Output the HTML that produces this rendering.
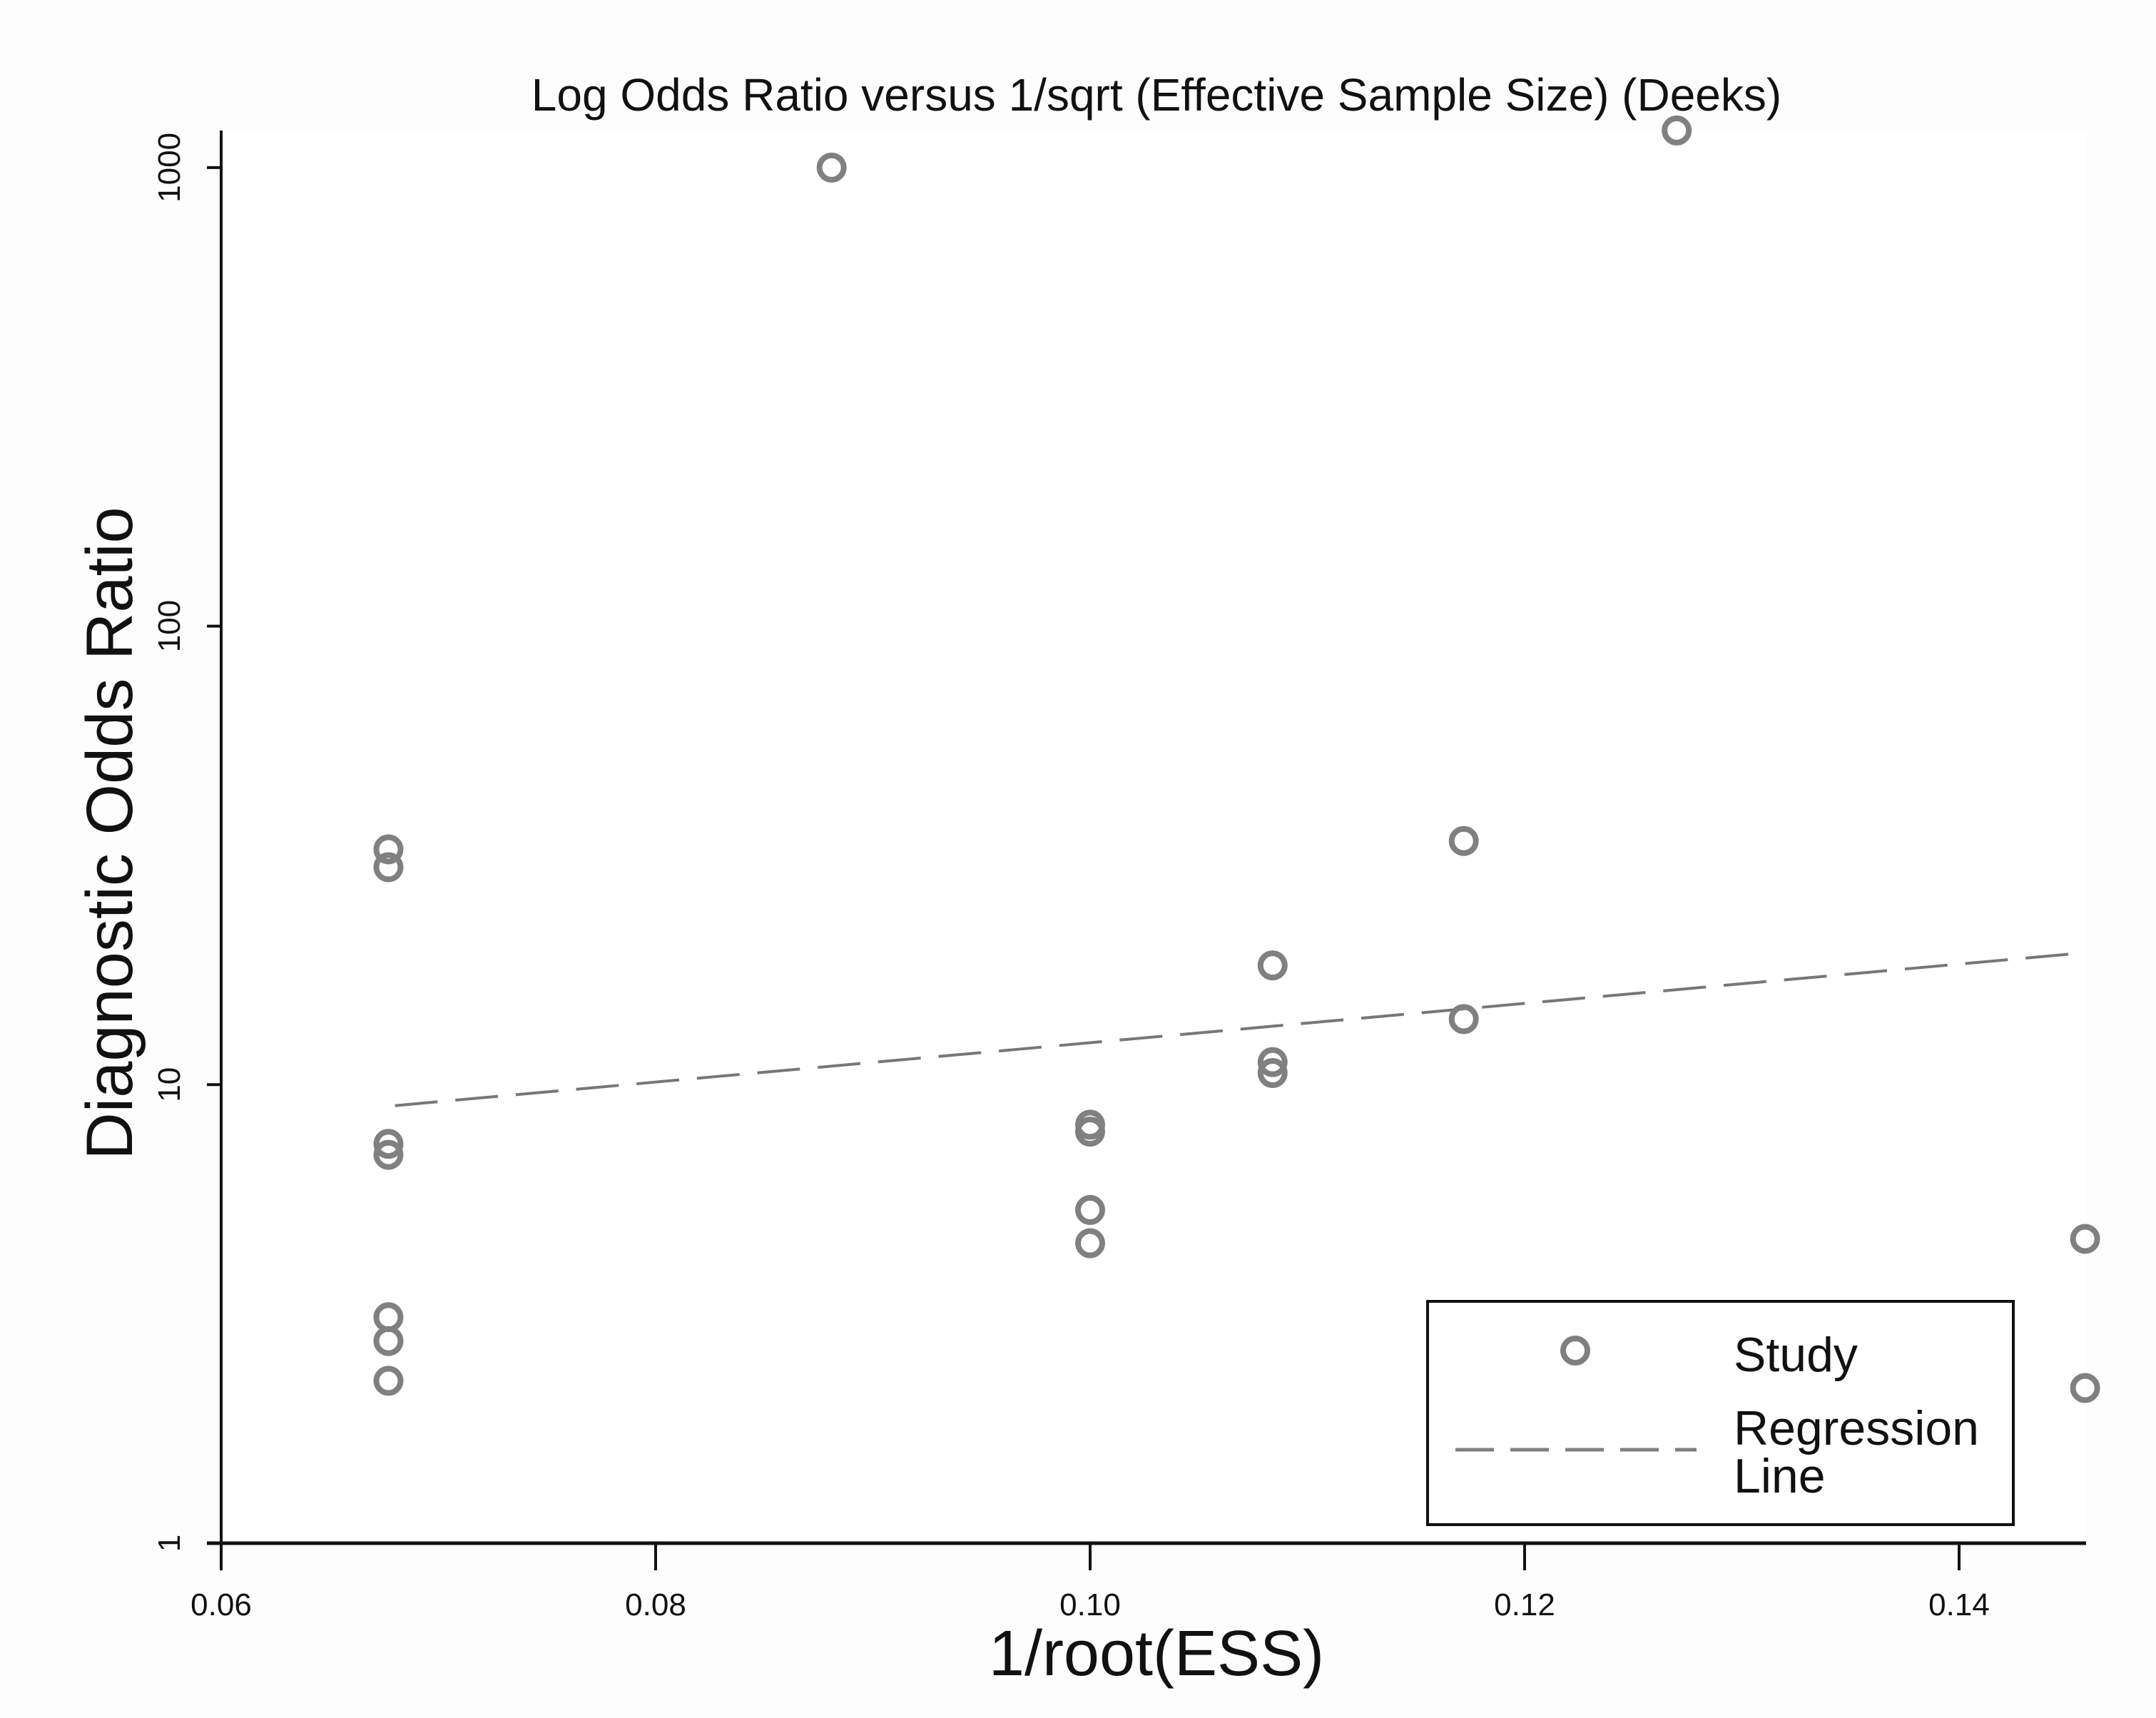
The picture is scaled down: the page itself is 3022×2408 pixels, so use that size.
<!DOCTYPE html>
<html><head><meta charset="utf-8"><style>
html,body{margin:0;padding:0;background:#fdfdfd;}
svg{display:block;font-family:"Liberation Sans",Arial,sans-serif;}
</style></head><body>
<svg id="chart" width="3022" height="2408" viewBox="0 0 3022 2408" xmlns="http://www.w3.org/2000/svg">
<rect x="310" y="183" width="2614" height="1980" fill="#ffffff"/>
<text x="1621" y="155" font-size="64" text-anchor="middle" fill="#111">Log Odds Ratio versus 1/sqrt (Effective Sample Size) (Deeks)</text>
<g id="axes"></g>
<g id="marks"></g>
<text x="1621" y="2348" font-size="90" text-anchor="middle" fill="#111">1/root(ESS)</text>
<text transform="translate(185,1168) rotate(-90)" font-size="92" text-anchor="middle" fill="#111">Diagnostic Odds Ratio</text>
<g>
<rect x="2001" y="1824" width="821" height="313" fill="#fff" stroke="#111" stroke-width="4"/>
<circle cx="2208" cy="1893" r="17" fill="none" stroke="#808080" stroke-width="8"/>
<text x="2430" y="1922" font-size="68" fill="#111">Study</text>
<line x1="2040" y1="2032" x2="2378" y2="2032" stroke="#808080" stroke-width="5" stroke-dasharray="54,23"/>
<text x="2430" y="2025" font-size="68" fill="#111">Regression</text>
<text x="2430" y="2092" font-size="68" fill="#111">Line</text>
</g>
</svg>
<script>
const studyX = [0.0677,0.0677,0.0677,0.0677,0.0677,0.0677,0.0677,0.0881,0.1270,0.1000,0.1000,0.1000,0.1000,0.1084,0.1084,0.1084,0.1172,0.1172,0.1458,0.1458];
const studyDOR = [32.6,29.8,7.43,7.03,3.11,2.76,2.26,1000,1205,8.18,7.9,5.33,4.51,18.2,11.2,10.6,34.0,13.9,4.61,2.18];
const regX = [0.0680,0.1458];
const regDOR = [9.0,19.4];
const xTicks = [0.06,0.08,0.10,0.12,0.14];
const xTickLabels = ["0.06","0.08","0.10","0.12","0.14"];
const yTicks = [1,10,100,1000];
const yTickLabels = ["1","10","100","1000"];

const NS='http://www.w3.org/2000/svg';
const X0=310, XPER=609/0.02, Y1=2163, DEC=642.7;
function sx(v){return X0+(v-0.06)*XPER;}
function sy(v){return Y1-Math.log10(v)*DEC;}
function mk(tag,attrs,parent){const e=document.createElementNS(NS,tag);for(const k in attrs)e.setAttribute(k,attrs[k]);parent.appendChild(e);return e;}
const axes=document.getElementById('axes'), marks=document.getElementById('marks');
let e=mk('line',{x1:X0,y1:183,x2:X0,y2:Y1,stroke:'#111','stroke-width':4},axes);


e=mk('line',{x1:X0-20,y1:Y1,x2:2924,y2:Y1,stroke:'#111','stroke-width':5},axes);


xTicks.forEach((t,i)=>{
  let l=mk('line',{x1:sx(t),y1:Y1,x2:sx(t),y2:Y1+38,stroke:'#111','stroke-width':4},axes);
  
  
  let tx=mk('text',{x:sx(t),y:2264,'font-size':44,'text-anchor':'middle',fill:'#111'},axes);
  tx.textContent=xTickLabels[i];
  
  
});
yTicks.forEach((t,i)=>{
  let l=mk('line',{x1:X0-20,y1:sy(t),x2:X0,y2:sy(t),stroke:'#111','stroke-width':4},axes);
  
  
  let tx=mk('text',{transform:`translate(252,${sy(t)}) rotate(-90)`,'font-size':44,'text-anchor':'middle',fill:'#111'},axes);
  tx.textContent=yTickLabels[i];
  
  
});
let rl=mk('line',{x1:sx(regX[0]),y1:sy(regDOR[0]),x2:sx(regX[1]),y2:sy(regDOR[1]),stroke:'#777','stroke-width':4,'stroke-dasharray':'60,25'},marks);


studyX.forEach((x,i)=>{
  let c=mk('circle',{cx:sx(x),cy:sy(studyDOR[i]),r:17,fill:'none',stroke:'#808080','stroke-width':8},marks);
  
  
});
</script>
</body></html>
